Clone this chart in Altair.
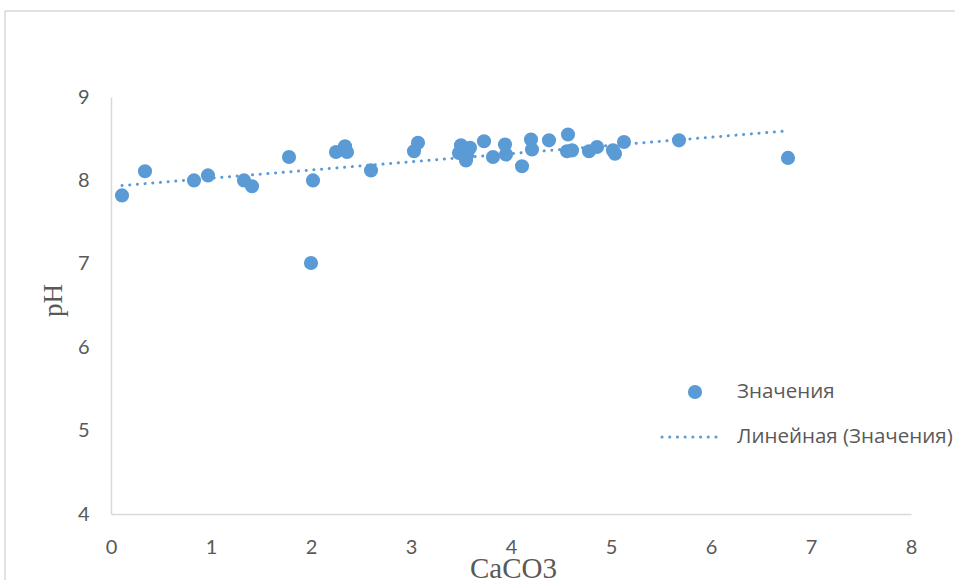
import altair as alt
import pandas as pd

# --- data ---
caco3 = [0.11, 0.34, 0.83, 0.97, 1.33, 1.41, 1.78, 2.02, 2.00, 2.25, 2.34, 2.36,
         2.60, 3.03, 3.07, 3.50, 3.48, 3.55, 3.56, 3.59, 3.73, 3.82, 3.94, 3.95,
         4.11, 4.20, 4.21, 4.38, 4.57, 4.56, 4.61, 4.78, 4.86, 5.02, 5.04, 5.13,
         5.68, 6.77]
ph = [7.82, 8.11, 8.00, 8.06, 8.00, 7.93, 8.28, 8.00, 7.01, 8.34, 8.41, 8.34,
      8.12, 8.35, 8.45, 8.42, 8.33, 8.24, 8.30, 8.39, 8.47, 8.28, 8.43, 8.31,
      8.17, 8.49, 8.37, 8.48, 8.55, 8.35, 8.36, 8.35, 8.40, 8.36, 8.32, 8.46,
      8.48, 8.27]
x_ticks = [0, 1, 2, 3, 4, 5, 6, 7, 8]
y_ticks = [4, 5, 6, 7, 8, 9]
legend_labels = ["Значения", "Линейная (Значения)"]
x_title = "CaCO3"
y_title = "pH"

BLUE = "#5B9BD5"
GRAY_TXT = "#595959"
GRAY_LINE = "#D9D9D9"
LABEL_FONT = "Lato"
LEGEND_FONT = "Open Sans"
TITLE_FONT = "Liberation Serif"

W, H = 800, 417

df = pd.DataFrame({"CaCO3": caco3, "pH": ph})

x_enc = alt.X(
    "CaCO3:Q",
    scale=alt.Scale(domain=[0, 8], nice=False, zero=False),
    axis=alt.Axis(
        title=x_title, values=x_ticks, format="d", grid=False, ticks=False,
        domainColor=GRAY_LINE, domainWidth=1.5,
        labelFont=LABEL_FONT, labelFontSize=20, labelColor=GRAY_TXT,
        labelPadding=23, labelFlush=False, labelOverlap=False,
        titleFont=TITLE_FONT, titleFontSize=29, titleFontWeight="normal",
        titleColor=GRAY_TXT, titleX=402, titleY=63, titleBaseline="alphabetic",
        titleAlign="center",
    ),
)
y_enc = alt.Y(
    "pH:Q",
    scale=alt.Scale(domain=[4, 9], nice=False, zero=False),
    axis=alt.Axis(
        title=y_title, values=y_ticks, format="d", grid=False, ticks=False,
        domainColor=GRAY_LINE, domainWidth=1.5,
        labelFont=LABEL_FONT, labelFontSize=20, labelColor=GRAY_TXT,
        labelPadding=22, labelFlush=False, labelOverlap=False,
        titleFont=TITLE_FONT, titleFontSize=27, titleFontWeight="normal",
        titleColor=GRAY_TXT, titleX=-58, titleY=203, titleAngle=270,
        titleAlign="center", titleBaseline="middle",
    ),
)

points = alt.Chart(df).mark_circle(size=200, opacity=1, color=BLUE).encode(
    x=x_enc, y=y_enc
)

trend = (
    alt.Chart(df)
    .transform_regression("CaCO3", "pH")
    .mark_line(color=BLUE, strokeWidth=3, strokeDash=[0.1, 7.6], strokeCap="round")
    .encode(x="CaCO3:Q", y="pH:Q")
)

one = pd.DataFrame({"k": [0]})

leg_pt = alt.Chart(one).mark_circle(size=200, opacity=1, color=BLUE).encode(
    x=alt.value(584), y=alt.value(295)
)
leg_t1 = alt.Chart(one).mark_text(
    align="left", baseline="middle", font=LEGEND_FONT, fontSize=20.5, color=GRAY_TXT
).encode(x=alt.value(626), y=alt.value(295), text=alt.value(legend_labels[0]))
leg_line = alt.Chart(one).mark_rule(
    color=BLUE, strokeWidth=3, strokeDash=[0.1, 7.6], strokeCap="round"
).encode(x=alt.value(551), x2=alt.value(609), y=alt.value(340))
leg_t2 = alt.Chart(one).mark_text(
    align="left", baseline="middle", font=LEGEND_FONT, fontSize=20.5, color=GRAY_TXT
).encode(x=alt.value(626), y=alt.value(340), text=alt.value(legend_labels[1]))

frame_top = alt.Chart(one).mark_rule(color=GRAY_LINE, strokeWidth=1.5).encode(
    x=alt.value(-106), x2=alt.value(850), y=alt.value(-86)
)
frame_left = alt.Chart(one).mark_rule(color=GRAY_LINE, strokeWidth=1.5).encode(
    x=alt.value(-106), y=alt.value(-86), y2=alt.value(490)
)

chart = (
    alt.layer(frame_top, frame_left, trend, points, leg_pt, leg_t1, leg_line, leg_t2)
    .properties(
        width=W, height=H,
        autosize=alt.AutoSizeParams(type="none"),
        padding={"left": 111, "top": 97, "right": 44, "bottom": 66},
        background="white",
    )
    .configure_view(stroke=None)
)

chart.save("out.html", embed_options={"renderer": "svg", "actions": False})
